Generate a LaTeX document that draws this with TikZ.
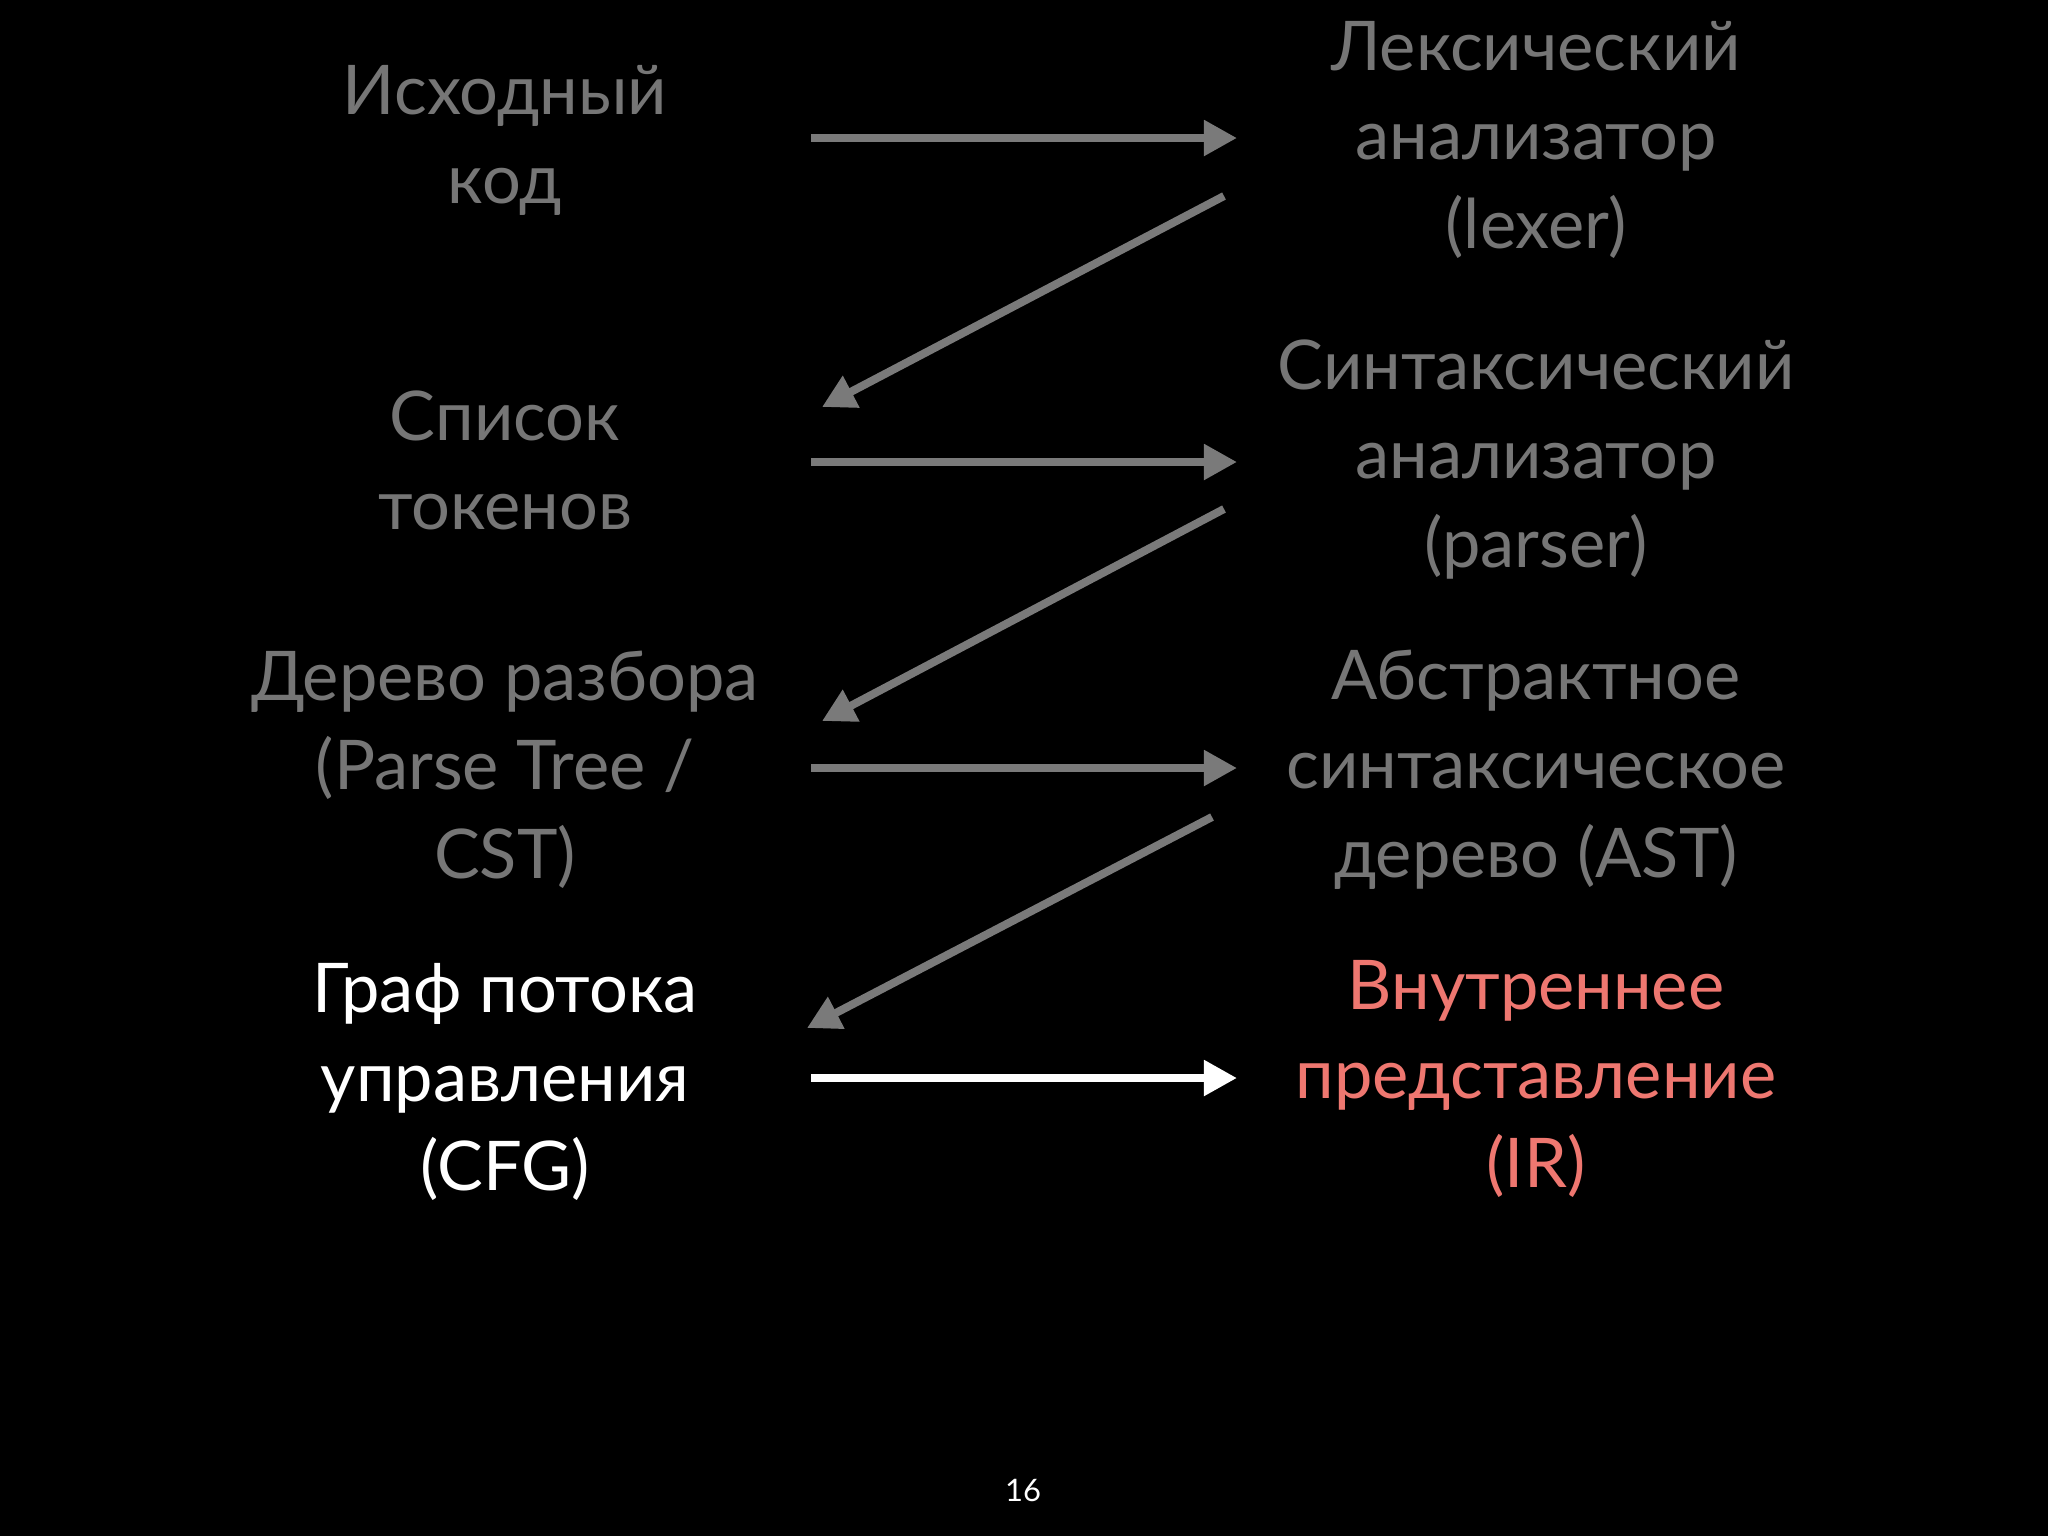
\documentclass[tikz,border=0pt]{standalone}
\usepackage{fontspec}
\setmainfont{Lato}
\usetikzlibrary{arrows.meta}
\definecolor{dimgray}{HTML}{767676}
\definecolor{arrowgray}{HTML}{7A7A7A}
\definecolor{salmon}{HTML}{EE7770}
\tikzset{
  lbl/.style={align=center, inner sep=0pt, font=\fontsize{19.5}{25.3}\selectfont},
  flow/.style={line width=0.08cm, -{Triangle[length=0.33cm,width=0.34cm]}},
}
\begin{document}
\begin{tikzpicture}[x=0.01cm,y=-0.01cm]
\fill[black] (0,0) rectangle (2048,1536);
\useasboundingbox (0,0) rectangle (2048,1536);
% left column
\node[lbl, text=dimgray] (src) at (505,140) {Исходный\\код};
\node[lbl, text=dimgray] (tok) at (505,460) {Список\\токенов};
\node[lbl, text=dimgray] (cst) at (505,770) {Дерево разбора\\(Parse Tree /\\CST)};
\node[lbl, text=white] (cfg) at (505,1082) {Граф потока\\управления\\(CFG)};
% right column
\node[lbl, text=dimgray] (lex) at (1536,140) {Лексический\\анализатор\\(lexer)};
\node[lbl, text=dimgray] (par) at (1536,460) {Синтаксический\\анализатор\\(parser)};
\node[lbl, text=dimgray] (ast) at (1536,770) {Абстрактное\\синтаксическое\\дерево (AST)};
\node[lbl, text=salmon] (ir) at (1536,1079) {Внутреннее\\представление\\(IR)};
% connector end points
\coordinate (h1a) at (811,138);  \coordinate (h1b) at (1237,138);
\coordinate (d1a) at (1224,196); \coordinate (d1b) at (822,407);
\coordinate (h2a) at (811,462);  \coordinate (h2b) at (1237,462);
\coordinate (d2a) at (1224,509); \coordinate (d2b) at (822,721);
\coordinate (h3a) at (811,768);  \coordinate (h3b) at (1237,768);
\coordinate (d3a) at (1212,817); \coordinate (d3b) at (807,1028);
\coordinate (h4a) at (811,1078); \coordinate (h4b) at (1237,1078);
\draw[flow, arrowgray] (h1a) -- (h1b);
\draw[flow, arrowgray] (d1a) -- (d1b);
\draw[flow, arrowgray] (h2a) -- (h2b);
\draw[flow, arrowgray] (d2a) -- (d2b);
\draw[flow, arrowgray] (h3a) -- (h3b);
\draw[flow, arrowgray] (d3a) -- (d3b);
\draw[flow, white] (h4a) -- (h4b);
\node[text=white, inner sep=0pt, font=\fontsize{8.8}{10}\selectfont] (pg) at (1023,1490) {16};
\end{tikzpicture}
\end{document}
